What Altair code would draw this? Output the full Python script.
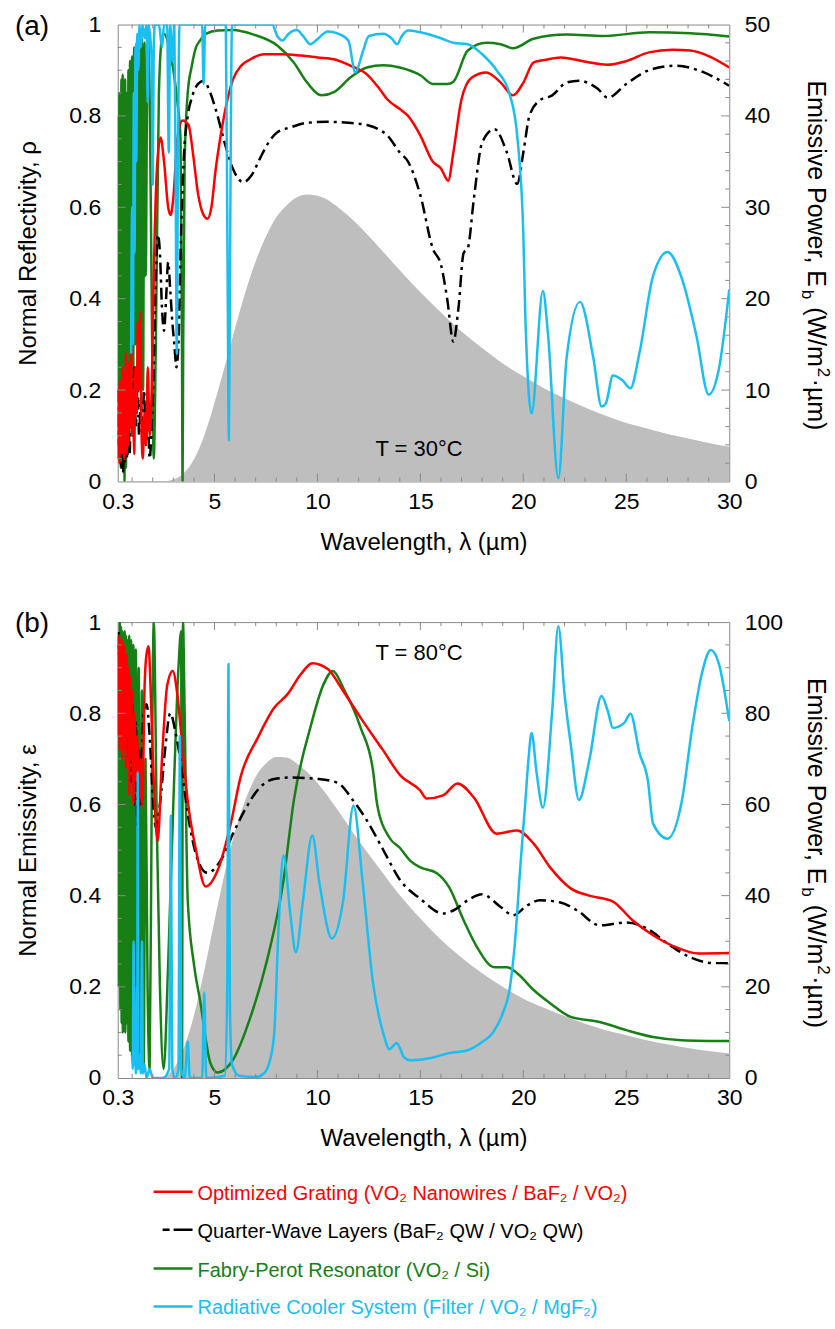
import altair as alt
import pandas as pd

FONT = "Liberation Sans"
RED, BLACK, GREEN, CYAN = "#ff0000", "#000000", "#168016", "#18bff0"
GRAY, FRAME = "#bebebe", "#8a8a8a"
W = 613
HA, HB = 458, 457
GAP = 141

# ---------------- data (wavelength um, value) ----------------
A_GREEN = [(0.30,0.80),(0.32,0.05),(0.34,0.70),(0.36,0.10),(0.38,0.85),(0.40,0.15),(0.42,0.80),(0.45,0.03),(0.48,0.88),(0.51,0.05),(0.54,0.89),(0.57,0.02),(0.60,0.87),(0.63,0.00),(0.66,0.88),(0.70,0.03),(0.74,0.85),(0.78,0.08),(0.82,0.90),(0.86,0.10),(0.90,0.92),(0.95,0.15),(1.00,0.93),(1.05,0.20),(1.10,0.95),(1.16,0.30),(1.22,0.96),(1.28,0.25),(1.34,0.97),(1.40,0.35),(1.47,0.97),(1.53,0.20),(1.60,0.96),(1.66,0.45),(1.75,0.98),(1.85,0.85),(1.95,0.40),(2.05,0.05),(2.15,0.30),(2.30,0.85),(2.45,0.97),(2.55,0.98),(2.75,0.96),(3.00,0.90),(3.20,0.83),(3.35,0.75),(3.42,0.30),(3.45,0.00),(3.48,0.30),(3.55,0.70),(3.70,0.85),(3.90,0.91),(4.10,0.95),(4.30,0.965),(4.60,0.98),(5.15,0.987),(5.90,0.988),(6.90,0.978),(8.05,0.954),(8.85,0.917),(9.50,0.873),(10.2,0.845),(10.8,0.852),(11.6,0.884),(12.4,0.906),(13.2,0.911),(14.0,0.906),(15.0,0.889),(15.6,0.870),(16.3,0.870),(16.6,0.875),(17.3,0.943),(18.2,0.960),(18.9,0.957),(19.5,0.948),(20.5,0.969),(22.1,0.978),(23.9,0.975),(26.1,0.983),(28.1,0.981),(30.0,0.974)]

A_RED = [(0.30,0.05),(0.32,0.20),(0.34,0.08),(0.36,0.15),(0.38,0.04),(0.40,0.22),(0.43,0.10),(0.46,0.18),(0.49,0.06),(0.52,0.25),(0.55,0.08),(0.58,0.20),(0.61,0.05),(0.64,0.24),(0.67,0.10),(0.70,0.28),(0.74,0.06),(0.78,0.22),(0.82,0.08),(0.86,0.26),(0.90,0.12),(0.95,0.30),(1.00,0.10),(1.05,0.20),(1.10,0.06),(1.16,0.25),(1.22,0.15),(1.28,0.35),(1.34,0.20),(1.40,0.37),(1.46,0.10),(1.52,0.05),(1.60,0.15),(1.68,0.08),(1.76,0.25),(1.85,0.10),(1.95,0.20),(2.05,0.45),(2.20,0.68),(2.38,0.753),(2.55,0.70),(2.75,0.60),(2.87,0.583),(3.00,0.62),(3.20,0.75),(3.45,0.79),(3.74,0.78),(3.95,0.72),(4.20,0.63),(4.45,0.585),(4.66,0.575),(4.85,0.60),(5.05,0.68),(5.30,0.757),(5.60,0.83),(5.90,0.88),(6.30,0.91),(6.75,0.924),(7.40,0.935),(8.30,0.935),(9.20,0.932),(10.0,0.928),(10.8,0.924),(11.6,0.91),(12.4,0.891),(13.0,0.86),(13.4,0.836),(14.0,0.815),(14.4,0.80),(15.0,0.757),(15.6,0.70),(16.0,0.685),(16.35,0.658),(16.6,0.72),(17.0,0.837),(17.5,0.884),(18.2,0.895),(18.9,0.873),(19.5,0.845),(20.0,0.873),(20.5,0.917),(21.1,0.923),(21.8,0.928),(23.1,0.918),(24.05,0.912),(25.0,0.92),(26.1,0.939),(27.25,0.945),(28.1,0.943),(29.0,0.931),(30.0,0.906)]

A_BLACK = [(0.30,0.20),(0.33,0.08),(0.36,0.15),(0.40,0.05),(0.44,0.12),(0.48,0.03),(0.52,0.10),(0.56,0.02),(0.60,0.08),(0.65,0.04),(0.70,0.10),(0.76,0.05),(0.82,0.14),(0.88,0.06),(0.95,0.20),(1.02,0.10),(1.10,0.25),(1.18,0.12),(1.26,0.22),(1.34,0.10),(1.42,0.18),(1.50,0.12),(1.58,0.20),(1.66,0.08),(1.75,0.15),(1.85,0.05),(1.95,0.12),(2.05,0.25),(2.15,0.45),(2.25,0.54),(2.35,0.50),(2.45,0.38),(2.55,0.33),(2.65,0.40),(2.75,0.48),(2.85,0.42),(2.95,0.35),(3.05,0.30),(3.15,0.25),(3.25,0.30),(3.35,0.50),(3.50,0.70),(3.70,0.80),(3.90,0.84),(4.20,0.87),(4.47,0.877),(4.80,0.85),(5.10,0.808),(5.50,0.74),(5.90,0.684),(6.40,0.655),(6.80,0.67),(7.20,0.706),(7.60,0.74),(8.05,0.764),(8.70,0.775),(9.50,0.785),(10.5,0.787),(11.5,0.785),(12.4,0.78),(13.0,0.77),(13.4,0.757),(14.0,0.72),(14.4,0.70),(15.0,0.626),(15.6,0.51),(16.0,0.474),(16.3,0.40),(16.6,0.306),(16.85,0.38),(17.1,0.50),(17.3,0.51),(17.6,0.62),(18.0,0.742),(18.6,0.771),(19.2,0.72),(19.7,0.651),(20.0,0.72),(20.3,0.801),(20.8,0.834),(21.4,0.845),(22.1,0.873),(22.7,0.877),(23.6,0.86),(24.1,0.84),(25.0,0.87),(26.1,0.90),(27.4,0.91),(28.5,0.90),(30.0,0.866)]

A_CYAN = [(0.95,0.28),(1.00,0.60),(1.04,0.30),(1.08,0.85),(1.12,0.50),(1.16,0.95),(1.20,0.70),(1.25,0.98),(1.30,0.90),(1.36,1.0),(1.42,0.95),(1.50,1.0),(1.60,0.97),(1.70,1.0),(1.75,0.83),(1.80,1.0),(1.95,0.92),(2.00,0.65),(2.05,0.95),(2.10,1.0),(2.30,1.0),(2.45,0.95),(2.55,1.0),(2.70,1.0),(2.78,0.72),(2.85,1.0),(2.95,0.92),(3.05,1.0),(3.12,0.60),(3.17,0.28),(3.22,0.65),(3.30,1.0),(4.40,1.0),(4.47,0.87),(4.55,1.0),(5.55,1.0),(5.63,0.5),(5.70,0.09),(5.77,0.6),(5.85,1.0),(7.80,1.0),(8.05,0.975),(8.30,0.965),(8.60,0.98),(9.00,0.988),(9.30,0.975),(9.66,0.957),(10.0,0.968),(10.5,0.985),(11.0,0.98),(11.5,0.965),(11.84,0.895),(12.2,0.94),(12.5,0.975),(13.2,0.98),(13.6,0.97),(13.87,0.957),(14.1,0.975),(14.4,0.987),(15.0,0.983),(16.0,0.97),(16.6,0.96),(17.3,0.957),(18.0,0.935),(18.7,0.90),(19.35,0.845),(19.7,0.757),(20.0,0.54),(20.1,0.356),(20.4,0.149),(20.95,0.417),(21.2,0.32),(21.7,0.007),(22.1,0.27),(22.75,0.393),(23.4,0.27),(23.8,0.164),(24.0,0.17),(24.35,0.232),(24.8,0.222),(25.2,0.204),(25.65,0.284),(26.3,0.45),(27.0,0.502),(27.7,0.444),(28.4,0.32),(29.0,0.19),(29.5,0.247),(30.0,0.42)]

A_EB = [(0.3,0.0),(2.5,0.0),(3.0,0.2),(3.5,0.9),(4.0,2.4),(4.5,5.0),(5.0,8.6),(5.5,12.6),(6.0,16.8),(6.5,20.7),(7.0,24.1),(7.5,26.8),(8.0,28.9),(8.5,30.2),(9.0,31.1),(9.5,31.4),(10.0,31.25),(10.5,30.8),(11.0,30.0),(12.0,28.0),(13.0,25.6),(14.0,23.1),(15.0,20.7),(16.0,18.5),(17.0,16.4),(18.0,14.6),(19.0,12.9),(20.0,11.5),(21.0,10.2),(22.0,9.1),(23.0,8.1),(24.0,7.2),(25.0,6.4),(26.0,5.8),(27.0,5.2),(28.0,4.7),(29.0,4.2),(30.0,3.8)]

B_GREEN = [(0.30,0.20),(0.32,0.95),(0.34,0.30),(0.36,0.97),(0.38,0.22),(0.40,1.0),(0.43,0.15),(0.46,0.99),(0.49,0.12),(0.52,0.98),(0.55,0.10),(0.58,0.97),(0.61,0.12),(0.64,0.98),(0.67,0.10),(0.70,0.97),(0.74,0.12),(0.78,0.96),(0.82,0.08),(0.86,0.97),(0.90,0.06),(0.95,0.96),(1.00,0.04),(1.06,0.95),(1.12,0.03),(1.18,0.94),(1.25,0.02),(1.32,0.90),(1.40,0.03),(1.48,0.85),(1.56,0.02),(1.65,0.70),(1.75,0.20),(1.85,0.02),(1.95,0.60),(2.05,1.0),(2.20,0.55),(2.35,0.20),(2.53,0.02),(2.75,0.25),(3.00,0.60),(3.25,0.90),(3.38,0.98),(3.42,0.0),(3.47,1.0),(3.55,0.80),(3.70,0.39),(4.00,0.25),(4.30,0.17),(4.80,0.033),(5.15,0.012),(5.90,0.04),(6.75,0.134),(7.55,0.258),(8.35,0.433),(8.85,0.608),(9.65,0.768),(10.3,0.864),(10.75,0.893),(11.25,0.856),(12.1,0.768),(12.7,0.674),(12.9,0.60),(13.5,0.527),(14.0,0.505),(14.5,0.477),(15.0,0.462),(15.8,0.449),(16.4,0.418),(17.1,0.346),(17.75,0.287),(18.6,0.243),(19.2,0.243),(19.7,0.23),(20.5,0.193),(21.3,0.164),(22.3,0.134),(23.7,0.123),(25.0,0.105),(26.3,0.09),(27.7,0.083),(30.0,0.081)]

B_RED = [(0.30,0.90),(0.32,0.75),(0.34,0.95),(0.36,0.80),(0.38,0.97),(0.40,0.72),(0.43,0.93),(0.46,0.78),(0.49,0.96),(0.52,0.70),(0.55,0.92),(0.58,0.76),(0.61,0.95),(0.64,0.72),(0.67,0.90),(0.70,0.68),(0.74,0.93),(0.78,0.75),(0.82,0.90),(0.86,0.62),(0.90,0.88),(0.95,0.70),(1.00,0.85),(1.06,0.60),(1.12,0.80),(1.18,0.65),(1.25,0.75),(1.32,0.58),(1.40,0.70),(1.50,0.60),(1.60,0.85),(1.70,0.93),(1.80,0.947),(1.90,0.85),(2.05,0.65),(2.24,0.52),(2.45,0.70),(2.70,0.86),(2.97,0.893),(3.20,0.84),(3.45,0.72),(3.70,0.608),(4.10,0.50),(4.57,0.42),(5.15,0.455),(5.80,0.56),(6.26,0.659),(7.10,0.746),(7.90,0.812),(8.55,0.842),(9.20,0.886),(9.75,0.91),(10.5,0.897),(11.25,0.849),(12.1,0.79),(13.2,0.718),(14.0,0.665),(15.0,0.63),(15.3,0.613),(16.1,0.62),(16.8,0.646),(17.6,0.615),(18.7,0.536),(19.7,0.543),(20.5,0.514),(21.3,0.462),(22.3,0.416),(23.2,0.40),(24.35,0.387),(25.3,0.346),(26.3,0.313),(27.4,0.287),(28.5,0.273),(30.0,0.274)]

B_BLACK = [(0.30,0.97),(0.32,0.93),(0.34,0.98),(0.37,0.90),(0.40,0.96),(0.44,0.88),(0.48,0.95),(0.52,0.85),(0.56,0.93),(0.60,0.80),(0.65,0.90),(0.70,0.75),(0.76,0.88),(0.82,0.70),(0.88,0.85),(0.95,0.65),(1.02,0.82),(1.10,0.60),(1.18,0.78),(1.26,0.55),(1.34,0.72),(1.42,0.60),(1.55,0.80),(1.70,0.82),(1.85,0.75),(2.00,0.62),(2.15,0.55),(2.35,0.60),(2.60,0.72),(2.85,0.80),(3.10,0.76),(3.40,0.68),(3.70,0.58),(4.20,0.477),(4.65,0.45),(5.30,0.477),(5.90,0.536),(6.50,0.59),(7.20,0.637),(7.90,0.656),(8.70,0.659),(10.0,0.656),(10.95,0.648),(11.75,0.608),(12.4,0.565),(13.2,0.50),(14.0,0.435),(15.0,0.393),(16.1,0.361),(16.7,0.37),(17.3,0.39),(18.0,0.403),(18.9,0.375),(19.5,0.357),(20.2,0.379),(20.8,0.39),(21.8,0.385),(22.6,0.368),(23.7,0.335),(25.0,0.341),(26.0,0.328),(27.0,0.295),(28.1,0.265),(29.2,0.252),(30.0,0.252)]

B_CYAN = [(1.00,0.05),(1.03,0.02),(1.07,0.30),(1.10,0.03),(1.14,0.10),(1.18,0.01),(1.22,0.20),(1.25,0.02),(1.27,0.67),(1.30,0.02),(1.36,0.05),(1.42,0.01),(1.48,0.30),(1.52,0.01),(1.60,0.03),(1.70,0.00),(1.85,0.02),(2.00,0.00),(2.50,0.00),(2.80,0.02),(2.88,0.575),(2.95,0.02),(3.10,0.0),(3.25,0.02),(3.32,0.75),(3.38,0.02),(3.55,0.0),(3.70,0.08),(3.80,0.0),(4.40,0.0),(4.50,0.188),(4.60,0.0),(5.50,0.005),(5.62,0.2),(5.68,0.908),(5.75,0.15),(5.85,0.03),(6.2,0.005),(7.0,0.002),(7.4,0.01),(7.7,0.04),(7.9,0.098),(8.1,0.317),(8.35,0.488),(8.7,0.352),(8.95,0.276),(9.3,0.39),(9.75,0.532),(10.1,0.427),(10.7,0.306),(11.25,0.39),(11.75,0.597),(12.2,0.427),(12.7,0.208),(13.2,0.098),(13.5,0.063),(13.85,0.077),(14.2,0.046),(14.5,0.039),(15.5,0.044),(16.4,0.055),(17.3,0.061),(18.0,0.079),(18.5,0.098),(19.0,0.142),(19.35,0.20),(19.6,0.302),(19.85,0.462),(20.1,0.608),(20.25,0.70),(20.4,0.757),(20.65,0.667),(20.95,0.593),(21.4,0.805),(21.7,0.991),(22.0,0.842),(22.3,0.733),(22.7,0.61),(23.2,0.696),(23.8,0.838),(24.1,0.805),(24.35,0.768),(24.9,0.779),(25.2,0.799),(25.65,0.711),(26.05,0.652),(26.3,0.558),(27.0,0.525),(27.7,0.608),(28.2,0.768),(28.7,0.893),(29.1,0.939),(29.5,0.908),(30.0,0.783)]

B_EB = [(0.3,0.0),(2.0,0.0),(2.5,0.3),(3.0,1.9),(3.5,6.5),(4.0,13.7),(4.5,23.5),(5.0,34.5),(5.5,45.0),(6.0,54.1),(6.5,61.0),(7.0,66.1),(7.5,69.0),(8.0,70.4),(8.5,70.3),(9.0,69.0),(9.5,67.1),(10.0,64.7),(11.0,58.7),(12.0,52.1),(13.0,46.0),(14.0,40.1),(15.0,35.0),(16.0,30.3),(17.0,26.4),(18.0,23.0),(19.0,20.0),(20.0,17.4),(21.0,15.4),(22.0,13.6),(23.0,11.9),(24.0,10.5),(25.0,9.4),(26.0,8.3),(27.0,7.4),(28.0,6.6),(29.0,5.9),(30.0,5.4)]

X_TICKS = [0.3, 5, 10, 15, 20, 25, 30]
X_MAJOR = [5, 10, 15, 20, 25]
X_MINOR = [v for v in range(1, 30) if v % 5]
L_TICKS = [0, 0.2, 0.4, 0.6, 0.8, 1]
L_MAJOR = [0.2, 0.4, 0.6, 0.8]
L_MINOR = [0.05, 0.1, 0.15, 0.25, 0.3, 0.35, 0.45, 0.5, 0.55, 0.65, 0.7, 0.75, 0.85, 0.9, 0.95]

LEGEND = [
    ("Optimized Grating (VO\u2082 Nanowires / BaF\u2082 / VO\u2082)", RED, None),
    ("Quarter-Wave Layers (BaF\u2082 QW / VO\u2082 QW)", BLACK, [7, 4, 20, 40]),
    ("Fabry-Perot Resonator (VO\u2082 / Si)", GREEN, None),
    ("Radiative Cooler System (Filter / VO\u2082 / MgF\u2082)", CYAN, None),
]

ONE = pd.DataFrame({"k": [0]})

XSCALE = alt.Scale(domain=[0.3, 30], nice=False, zero=False)
XAXIS = alt.Axis(values=X_TICKS, labelExpr="datum.value == 0.3 ? '0.3' : format(datum.value, 'd')",
                 ticks=False, tickSize=0, domain=False, grid=False,
                 labelFont=FONT, labelFontSize=23, labelColor="black", labelPadding=9,
                 labelFlush=False, labelOverlap=False,
                 title="Wavelength, \u03bb (\u00b5m)", titleFont=FONT, titleFontSize=24,
                 titleFontWeight="normal", titleColor="black", titleX=W / 2, titleY=68,
                 titleAlign="center", titleBaseline="alphabetic", titleAngle=0)


def X(f):
    return alt.X(f"{f}:Q", scale=XSCALE, axis=XAXIS)


AW = {'E': 667, 'm': 833, 'i': 222, 's': 500, 'v': 500, 'e': 556, ' ': 278, 'P': 667, 'o': 556,
      'w': 722, 'r': 333, ',': 278, 'b': 556, '(': 333, 'W': 944, '/': 278, '2': 556,
      '\u00b7': 278, '\u00b5': 576, ')': 333}


def tw(s, size):
    return sum(AW.get(c, 556) for c in s) * size / 1000.0


def text_at(txt, x, y, size=22, color="black", align="left", baseline="alphabetic", angle=0):
    kw = dict(text=txt, font=FONT, fontSize=size, color=color, align=align, baseline=baseline)
    if angle:
        kw["angle"] = angle
    return alt.Chart(ONE).mark_text(**kw).encode(x=alt.value(x), y=alt.value(y))


def ticks_df(vals):
    return pd.DataFrame({"t": vals})


def panel(H, series, eb, ltitle, rmax, rmaj, rmin, ttext, ty, plabel, bound_y, legend=False):
    ysl = alt.Scale(domain=[0, 1], nice=False, zero=False)
    yal = alt.Axis(orient="left", values=L_TICKS,
                   labelExpr="datum.value == 0 ? '0' : datum.value == 1 ? '1' : format(datum.value, '.1f')",
                   ticks=False, tickSize=0, domain=False,
                   grid=False, labelFont=FONT, labelFontSize=23, labelColor="black", labelPadding=17,
                   labelFlush=False, labelOverlap=False, title=ltitle, titleFont=FONT, titleFontSize=24,
                   titleFontWeight="normal", titleColor="black", titleX=-82, titleY=H / 2,
                   titleAngle=270, titleAlign="center", titleBaseline="alphabetic")
    ysr = alt.Scale(domain=[0, rmax], nice=False, zero=False)
    yar = alt.Axis(orient="right", values=[0] + rmaj + [rmax], format="d", ticks=False, tickSize=0,
                   domain=False, grid=False, labelFont=FONT, labelFontSize=23, labelColor="black",
                   labelPadding=15, labelFlush=False, labelOverlap=False, title="")

    def YL(f):
        return alt.Y(f"{f}:Q", scale=ysl, axis=yal)

    def YR(f):
        return alt.Y(f"{f}:Q", scale=ysr, axis=yar)

    # right group: blackbody area + right ticks
    area = alt.Chart(pd.DataFrame(eb, columns=["lam", "eb"])).mark_area(
        color=GRAY, opacity=1, clip=True, interpolate="monotone").encode(x=X("lam"), y=YR("eb"))
    rt_major = alt.Chart(ticks_df(rmaj)).mark_rule(color=FRAME, strokeWidth=1).encode(
        y=YR("t"), x=alt.value(W), x2=alt.value(W - 8))
    rt_minor = alt.Chart(ticks_df(rmin)).mark_rule(color=FRAME, strokeWidth=1).encode(
        y=YR("t"), x=alt.value(W), x2=alt.value(W - 4))
    right = alt.layer(area, rt_major, rt_minor)

    layers = []
    for pts, color, dash in series:
        kw = dict(color=color, strokeWidth=2.5, clip=True, strokeJoin="round", interpolate="monotone")
        if dash:
            kw["strokeDash"] = dash
        layers.append(alt.Chart(pd.DataFrame(pts, columns=["lam", "v"])).mark_line(**kw).encode(
            x=X("lam"), y=YL("v")))
    # left ticks
    layers.append(alt.Chart(ticks_df(L_MAJOR)).mark_rule(color=FRAME, strokeWidth=1).encode(
        y=YL("t"), x=alt.value(0), x2=alt.value(8)))
    layers.append(alt.Chart(ticks_df(L_MINOR)).mark_rule(color=FRAME, strokeWidth=1).encode(
        y=YL("t"), x=alt.value(0), x2=alt.value(4)))
    # bottom / top ticks
    for vals, ln in ((X_MAJOR, 8), (X_MINOR, 4)):
        layers.append(alt.Chart(ticks_df(vals)).mark_rule(color=FRAME, strokeWidth=1).encode(
            x=X("t"), y=alt.value(H), y2=alt.value(H - ln)))
        layers.append(alt.Chart(ticks_df(vals)).mark_rule(color=FRAME, strokeWidth=1).encode(
            x=X("t"), y=alt.value(0), y2=alt.value(ln)))

    # annotations
    layers.append(text_at(ttext, 302, ty, size=22, align="center", baseline="middle"))
    layers.append(text_at(plabel, -103, -12, size=28, baseline="top"))

    # right axis title with sub/superscript (leading blanks become explicit gaps)
    pieces = [("Emissive Power, E", 25, 0, 0), ("b", 17, -6, 1.5), ("(W/m", 25, 0, 8),
              ("2", 17, 10, 1.0), ("\u00b7\u00b5m)", 25, 0, 1.5)]
    yy = 56
    for txt, sz, dx, gap in pieces:
        yy += gap
        layers.append(text_at(txt, 692 + dx, yy, size=sz, angle=90))
        yy += tw(txt, sz)

    if legend:
        rows_y = [571, 609, 648, 686]
        for (txt, color, dash), ry in zip(LEGEND, rows_y):
            kw = dict(color=color, strokeWidth=2.5)
            if dash:
                kw["strokeDash"] = dash
            x0 = 45 if dash else 36
            layers.append(alt.Chart(ONE).mark_rule(**kw).encode(
                x=alt.value(x0), x2=alt.value(75), y=alt.value(ry)))
            layers.append(text_at(txt, 80, ry + 8, size=20, color=color))

    # white hairline that fixes the canvas extent
    layers.append(alt.Chart(ONE).mark_rule(color="white", strokeWidth=0.01).encode(
        x=alt.value(-117), x2=alt.value(718), y=alt.value(bound_y)))

    left = alt.layer(*layers)
    return alt.layer(right, left).resolve_scale(y="independent").properties(width=W, height=H)


series_a = [(A_GREEN, GREEN, None), (A_BLACK, BLACK, [12, 5, 3, 5]), (A_RED, RED, None), (A_CYAN, CYAN, None)]
series_b = [(B_GREEN, GREEN, None), (B_BLACK, BLACK, [12, 5, 3, 5]), (B_RED, RED, None), (B_CYAN, CYAN, None)]

pa = panel(HA, series_a, A_EB, "Normal Reflectivity, \u03c1", 50, [10, 20, 30, 40],
           [v for v in range(2, 50, 2) if v % 10], "T = 30\u00b0C", 425, "(a)", -22)
pb = panel(HB, series_b, B_EB, "Normal Emissivity, \u03b5", 100, [20, 40, 60, 80],
           [v for v in range(5, 100, 5) if v % 20], "T = 80\u00b0C", 31, "(b)", 708, legend=True)

chart = alt.vconcat(pa, pb, spacing=GAP, bounds="flush").configure_view(
    stroke=FRAME, strokeWidth=1).properties(padding=0, background="white")

chart.save("out.html", embed_options={"renderer": "svg", "actions": False})
